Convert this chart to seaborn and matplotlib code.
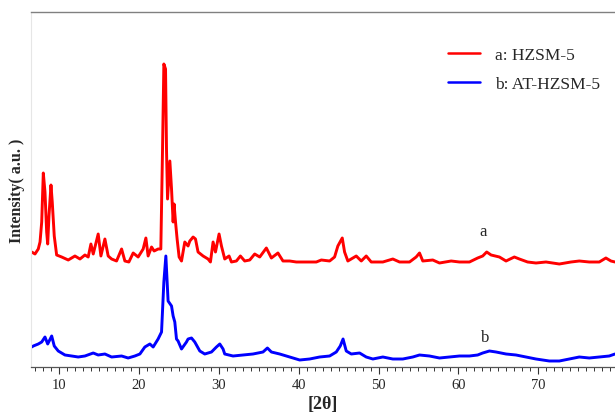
import matplotlib
matplotlib.use("Agg")
import matplotlib.pyplot as plt
import seaborn as sns
import pandas as pd
import numpy as np
from matplotlib.ticker import MultipleLocator

# ---- data (2theta, intensity a.u.) ----
a_two_theta = [6.59, 7.0, 7.41, 7.63, 7.84, 8.04, 8.25, 8.46, 8.59, 8.75, 9.0, 9.16, 9.41, 9.71,
               10.34, 11.16, 12.0, 12.63, 13.25, 13.66, 14.0, 14.29, 14.91, 15.25, 15.75, 16.16,
               16.59, 17.21, 17.84, 18.25, 18.75, 19.29, 19.91, 20.54, 20.88, 21.16, 21.59, 21.91,
               22.41, 22.75, 22.96, 23.13, 23.34, 23.46, 23.59, 23.88, 24.09, 24.29, 24.41, 24.59,
               24.79, 25.04, 25.34, 25.75, 26.16, 26.38, 26.59, 26.79, 27.09, 27.41, 28.04, 28.66,
               28.96, 29.29, 29.59, 30.04, 30.34, 30.75, 31.29, 31.59, 32.21, 32.71, 33.25, 33.88,
               34.5, 35.13, 35.96, 36.59, 37.41, 38.04, 38.88, 39.71, 41.38, 42.21, 42.84, 43.88,
               44.5, 44.91, 45.46, 45.75, 46.16, 47.21, 47.84, 48.46, 49.09, 50.54, 51.79, 52.63,
               53.88, 54.71, 55.13, 55.54, 56.79, 57.63, 59.09, 60.13, 61.38, 62.41, 63.04, 63.54,
               64.09, 65.13, 65.96, 67.0, 67.63, 68.66, 69.71, 70.96, 72.63, 74.09, 75.13, 76.38,
               77.63, 78.46, 79.09, 79.6]
a_intensity = [115, 113, 118, 125, 145, 194, 175, 135, 123, 151, 182, 165, 131, 112,
               110, 107, 111, 108, 112, 110, 123, 113, 133, 111, 128, 111,
               108, 106, 118, 106, 105, 114, 110, 118, 129, 111, 120, 116,
               118, 118, 216, 303, 298, 218, 168, 206, 178, 145, 163, 145,
               128, 110, 106, 125, 121, 126, 128, 130, 128, 115, 111, 108,
               105, 125, 115, 133, 121, 108, 111, 105, 106, 111, 106, 107,
               113, 110, 119, 109, 114, 106, 106, 105, 105, 105, 107, 106,
               110, 121, 129, 115, 106, 111, 106, 111, 105, 105, 108, 105,
               105, 110, 114, 106, 107, 104, 106, 105, 105, 109, 111, 115,
               112, 110, 106, 110, 108, 105, 104, 105, 103, 105, 106, 105,
               105, 109, 106, 105]

b_two_theta = [6.59, 6.79, 7.41, 7.84, 8.25, 8.59, 9.09, 9.41, 9.91, 10.75, 11.59, 12.41, 13.25,
               14.29, 14.91, 15.75, 16.59, 17.84, 18.66, 19.5, 20.13, 20.75, 21.38, 21.79, 22.41,
               22.84, 23.13, 23.38, 23.66, 24.09, 24.29, 24.5, 24.71, 24.91, 25.34, 25.96, 26.16,
               26.59, 27.0, 27.63, 28.25, 29.09, 29.71, 30.13, 30.54, 30.75, 31.79, 33.04, 34.29,
               35.54, 36.09, 36.59, 37.63, 38.88, 40.13, 41.38, 42.63, 43.88, 44.71, 45.21, 45.56,
               45.96, 46.59, 47.63, 48.46, 49.29, 50.54, 51.79, 53.04, 54.29, 55.13, 56.38, 57.63,
               58.88, 60.13, 61.38, 62.41, 63.04, 63.88, 64.71, 65.96, 67.21, 68.46, 69.71, 71.38,
               72.63, 73.88, 75.13, 76.38, 77.63, 78.88, 79.6]
b_intensity = [20, 21, 23, 25, 30, 23, 31, 21, 16, 12, 11, 10, 11,
               14, 12, 13, 10, 11, 9, 11, 13, 20, 23, 20, 28,
               35, 85, 111, 66, 61, 51, 45, 28, 26, 18, 25, 28,
               29, 25, 16, 13, 15, 20, 23, 18, 13, 11, 12, 13,
               15, 19, 15, 13, 10, 7, 8, 10, 11, 15, 21, 28,
               16, 13, 14, 10, 8, 10, 8, 8, 10, 12, 11, 9,
               10, 11, 11, 12, 14, 16, 15, 13, 12, 10, 8, 6,
               6, 8, 10, 9, 10, 11, 13]

series_names = ["a: HZSM-5", "b: AT-HZSM-5"]
curve_labels = ["a", "b"]
x_ticks = [10, 20, 30, 40, 50, 60, 70]

df = pd.concat([
    pd.DataFrame({"2theta": a_two_theta, "I": a_intensity, "s": series_names[0]}),
    pd.DataFrame({"2theta": b_two_theta, "I": b_intensity, "s": series_names[1]}),
])

sns.set_style("white")
plt.rcParams["font.family"] = ["Liberation Serif", "DejaVu Serif"]

fig = plt.figure(figsize=(6.15, 4.14), dpi=100)
ax = fig.add_axes([31 / 615, 1 - 368 / 414, 1 - 31 / 615, (368 - 13) / 414])

sns.lineplot(data=df, x="2theta", y="I", hue="s", palette=["#ff0000", "#0000ff"],
             linewidth=2.1, ax=ax, legend=False, sort=False, estimator=None)

ax.set_xlim(6.5, 79.6)
ax.set_ylim(0, 355)
ax.set_xticks(x_ticks)
ax.xaxis.set_minor_locator(MultipleLocator(1))
ax.set_yticks([])
ax.tick_params(axis="x", which="major", direction="out", length=5, width=0.8,
               labelsize=10.5, pad=3, bottom=True, color="#333333")
ax.tick_params(axis="x", which="minor", direction="out", length=3, width=0.7,
               bottom=True, color="#333333")

for side in ["top", "left", "right", "bottom"]:
    ax.spines[side].set_visible(True)
ax.spines["top"].set_color("#808080")
ax.spines["left"].set_color("#e6e6e6")
ax.spines["right"].set_visible(False)
ax.spines["bottom"].set_color("#555555")
ax.spines["top"].set_linewidth(1.0)
ax.spines["bottom"].set_linewidth(0.9)

ax.set_xlabel("[2θ]", fontsize=13, fontweight="bold", labelpad=3)
ax.set_ylabel("Intensity( a.u. )", fontsize=11.5, fontweight="bold", labelpad=4)

# legend
handles = [plt.Line2D([], [], color="#ff0000", lw=1.8),
           plt.Line2D([], [], color="#0000ff", lw=1.8)]
ax.legend(handles, series_names, loc="upper left", bbox_to_anchor=(0.688, 0.945),
          frameon=False, fontsize=12.5, handlelength=1.8, handletextpad=0.9,
          labelspacing=0.7)

ax.text(63.1, 128, curve_labels[0], fontsize=12, ha="center", va="bottom")
ax.text(63.4, 22, curve_labels[1], fontsize=12, ha="center", va="bottom")

fig.savefig("out.png", dpi=100)
